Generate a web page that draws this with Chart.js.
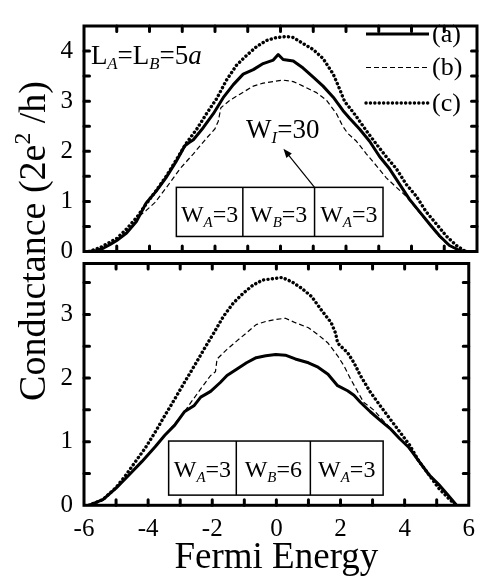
<!DOCTYPE html>
<html>
<head>
<meta charset="utf-8">
<script src="https://cdn.jsdelivr.net/npm/chart.js@4/dist/chart.umd.min.js"></script>
<style>
  html, body { margin: 0; padding: 0; background: #fff; }
  #wrap { position: relative; width: 484px; height: 583px; }
  #wrap canvas { position: absolute; left: 0; top: 0; }
</style>
</head>
<body>
<div id="wrap">
  <canvas id="cBot" width="484" height="583"></canvas>
  <canvas id="cTop" width="484" height="583"></canvas>
</div>
<script>
const FONT = '"Liberation Serif", "Times New Roman", serif';

// ---- upper panel (W_A=3, W_B=3) ----
const topEnergyA = [-5.85, -5.6, -5.4, -5.2, -5.0, -4.7, -4.4, -4.1, -3.8, -3.5, -3.2, -2.92, -2.8, -2.66, -2.36, -2.05, -1.75, -1.44, -1.14, -0.83, -0.53, -0.22, -0.07, 0.08, 0.39, 0.69, 1.0, 1.3, 1.61, 1.91, 2.11, 2.42, 2.72, 3.03, 3.33, 3.64, 3.94, 4.25, 4.55, 4.86, 5.16, 5.47, 5.7];
const topCondA   = [0, 0.02, 0.07, 0.14, 0.22, 0.37, 0.6, 0.97, 1.2, 1.47, 1.78, 2.11, 2.17, 2.23, 2.47, 2.75, 3.07, 3.33, 3.54, 3.63, 3.75, 3.82, 3.93, 3.83, 3.8, 3.66, 3.48, 3.3, 3.08, 2.81, 2.66, 2.44, 2.2, 1.89, 1.65, 1.34, 1.04, 0.79, 0.55, 0.31, 0.12, 0.02, 0];

const topEnergyB = [-5.85, -5.4, -5.0, -4.7, -4.45, -4.29, -4.1, -3.83, -3.48, -3.07, -2.66, -2.26, -2.0, -1.9, -1.82, -1.54, -1.24, -0.83, -0.53, -0.22, 0.08, 0.39, 0.69, 1.1, 1.4, 1.71, 1.9, 2.05, 2.32, 2.62, 2.93, 3.23, 3.54, 3.84, 4.15, 4.45, 4.8, 5.1, 5.4, 5.7];
const topCondB   = [0, 0.07, 0.22, 0.37, 0.55, 0.72, 0.82, 0.98, 1.28, 1.65, 1.95, 2.26, 2.45, 2.6, 2.87, 3.02, 3.14, 3.3, 3.36, 3.39, 3.42, 3.39, 3.3, 3.17, 3.02, 2.75, 2.5, 2.36, 2.2, 1.95, 1.71, 1.47, 1.28, 1.1, 0.85, 0.61, 0.33, 0.14, 0.03, 0];

const topEnergyC = [-5.85, -5.5, -5.0, -4.7, -4.39, -4.1, -3.78, -3.47, -3.17, -2.9, -2.56, -2.26, -1.95, -1.65, -1.34, -1.04, -0.73, -0.43, -0.12, 0.18, 0.39, 0.69, 1.0, 1.3, 1.61, 1.8, 1.96, 2.11, 2.32, 2.62, 2.93, 3.23, 3.54, 3.84, 4.15, 4.45, 4.76, 5.06, 5.37, 5.65];
const topCondC   = [0, 0.08, 0.26, 0.45, 0.68, 0.95, 1.23, 1.52, 1.84, 2.14, 2.44, 2.75, 3.05, 3.42, 3.72, 3.91, 4.09, 4.21, 4.27, 4.29, 4.27, 4.15, 4.03, 3.85, 3.54, 3.25, 2.99, 2.87, 2.69, 2.41, 2.14, 1.89, 1.65, 1.34, 1.1, 0.79, 0.55, 0.31, 0.12, 0];

// ---- lower panel (W_A=3, W_B=6) ----
const botEnergyA = [-5.85, -5.41, -5.0, -4.59, -4.19, -3.78, -3.48, -3.17, -2.87, -2.56, -2.36, -2.05, -1.75, -1.54, -1.24, -0.93, -0.63, -0.33, -0.02, 0.28, 0.59, 1.0, 1.3, 1.61, 1.91, 2.22, 2.42, 2.62, 2.93, 3.23, 3.54, 3.84, 4.15, 4.45, 4.76, 5.06, 5.37, 5.62];
const botCondA   = [0, 0.09, 0.27, 0.48, 0.69, 0.92, 1.1, 1.26, 1.47, 1.57, 1.7, 1.79, 1.93, 2.04, 2.14, 2.24, 2.32, 2.35, 2.37, 2.36, 2.3, 2.24, 2.17, 2.06, 1.88, 1.8, 1.73, 1.62, 1.47, 1.34, 1.21, 1.05, 0.9, 0.69, 0.48, 0.33, 0.15, 0];

const botEnergyB = [-5.85, -5.41, -5.0, -4.59, -4.19, -3.78, -3.48, -3.17, -2.87, -2.66, -2.36, -2.05, -1.9, -1.85, -1.54, -1.24, -0.93, -0.63, -0.33, -0.02, 0.28, 0.59, 1.0, 1.3, 1.61, 1.91, 2.11, 2.32, 2.52, 2.72, 3.03, 3.33, 3.64, 3.94, 4.25, 4.45, 4.76, 5.06, 5.37, 5.62];
const botCondB   = [0, 0.09, 0.27, 0.48, 0.69, 0.92, 1.1, 1.28, 1.47, 1.62, 1.83, 2.04, 2.1, 2.3, 2.45, 2.58, 2.71, 2.84, 2.89, 2.92, 2.94, 2.87, 2.79, 2.68, 2.55, 2.35, 2.19, 1.98, 1.8, 1.62, 1.5, 1.33, 1.17, 1.0, 0.82, 0.69, 0.48, 0.33, 0.15, 0];

const botEnergyC = [-5.85, -5.41, -5.0, -4.7, -4.39, -4.09, -3.78, -3.48, -3.17, -2.87, -2.56, -2.26, -1.95, -1.65, -1.34, -1.04, -0.73, -0.43, -0.12, 0.18, 0.49, 0.79, 1.1, 1.4, 1.71, 1.85, 1.91, 2.01, 2.22, 2.42, 2.62, 2.93, 3.23, 3.54, 3.84, 4.15, 4.45, 4.76, 5.06, 5.37, 5.6];
const botCondC   = [0, 0.09, 0.28, 0.47, 0.69, 0.9, 1.15, 1.41, 1.67, 1.93, 2.19, 2.45, 2.71, 2.97, 3.18, 3.33, 3.46, 3.54, 3.56, 3.58, 3.51, 3.41, 3.28, 3.07, 2.87, 2.7, 2.55, 2.5, 2.4, 2.24, 2.04, 1.78, 1.57, 1.36, 1.16, 0.95, 0.69, 0.48, 0.27, 0.11, 0];

// axis ticks
const xTickLabels = [-6, -4, -2, 0, 2, 4, 6];
const topYTickLabels = [0, 1, 2, 3, 4];
const botYTickLabels = [0, 1, 2, 3];
const seriesNames = ['(a)', '(b)', '(c)'];

const zip = (xs, ys) => xs.map((x, i) => ({ x, y: ys[i] }));

const lineStyles = [
  { borderWidth: 3, borderDash: [], borderCapStyle: 'butt' },
  { borderWidth: 1.2, borderDash: [5, 3], borderCapStyle: 'butt' },
  { borderWidth: 3.4, borderDash: [0.1, 4.3], borderCapStyle: 'round' }
];

function makeSets(pairs) {
  return pairs.map((p, i) => Object.assign({
    label: seriesNames[i],
    data: zip(p[0], p[1]),
    borderColor: '#000',
    pointRadius: 0,
    tension: 0,
    fill: false,
    borderJoinStyle: 'round'
  }, lineStyles[i]));
}

// text with sub/superscripts, drawn left/center aligned at a baseline
function richText(ctx, x, y, segs, size, align) {
  const parts = segs.map(s => {
    const fs = (s.sub || s.sup) ? size * 0.62 : size;
    const font = (s.it ? 'italic ' : '') + fs + 'px ' + FONT;
    ctx.font = font;
    const dy = s.sub ? size * 0.2 : (s.sup ? -size * 0.4 : 0);
    return { t: s.t, font, dy, w: ctx.measureText(s.t).width };
  });
  const total = parts.reduce((a, p) => a + p.w, 0);
  let cx = align === 'center' ? x - total / 2 : x;
  ctx.textAlign = 'left';
  ctx.textBaseline = 'alphabetic';
  ctx.fillStyle = '#000';
  for (const p of parts) {
    ctx.font = p.font;
    ctx.fillText(p.t, cx, y + p.dy);
    cx += p.w;
  }
}

const W = (letter, val) => [{ t: 'W' }, { t: letter, sub: 1, it: 1 }, { t: '=' + val }];

// frame, inward ticks, boxes, labels and legend for each panel
const panelDeco = {
  id: 'panelDeco',
  afterDatasetsDraw(chart, args, o) {
    const { ctx, chartArea: a, scales: { x, y } } = chart;
    ctx.save();
    // structure boxes
    if (o.boxes) {
      ctx.lineWidth = 1.5;
      ctx.strokeStyle = '#000';
      const b = o.boxes;
      const top = y.getPixelForValue(b.top), bot = y.getPixelForValue(b.bottom);
      const xs = b.edges.map(v => x.getPixelForValue(v));
      ctx.fillStyle = '#fff';
      ctx.fillRect(xs[0], top, xs[xs.length - 1] - xs[0], bot - top);
      ctx.strokeRect(xs[0], top, xs[xs.length - 1] - xs[0], bot - top);
      for (let i = 1; i < xs.length - 1; i++) {
        ctx.beginPath(); ctx.moveTo(xs[i], top); ctx.lineTo(xs[i], bot); ctx.stroke();
      }
      b.labels.forEach((lab, i) => {
        richText(ctx, (xs[i] + xs[i + 1]) / 2, y.getPixelForValue(b.textY), lab, 24, 'center');
      });
    }
    // free text
    (o.texts || []).forEach(t => {
      richText(ctx, x.getPixelForValue(t.x), y.getPixelForValue(t.y), t.segs, t.size, 'left');
    });
    // arrow
    if (o.arrow) {
      const x0 = x.getPixelForValue(o.arrow.from[0]), y0 = y.getPixelForValue(o.arrow.from[1]);
      const x1 = x.getPixelForValue(o.arrow.to[0]), y1 = y.getPixelForValue(o.arrow.to[1]);
      const ang = Math.atan2(y1 - y0, x1 - x0), hl = 9, hw = 3.5;
      ctx.strokeStyle = '#000'; ctx.lineWidth = 1.2;
      ctx.beginPath(); ctx.moveTo(x0, y0);
      ctx.lineTo(x1 - Math.cos(ang) * hl * 0.8, y1 - Math.sin(ang) * hl * 0.8); ctx.stroke();
      ctx.fillStyle = '#000';
      ctx.beginPath();
      ctx.moveTo(x1, y1);
      ctx.lineTo(x1 - Math.cos(ang) * hl - Math.sin(ang) * hw, y1 - Math.sin(ang) * hl + Math.cos(ang) * hw);
      ctx.lineTo(x1 - Math.cos(ang) * hl + Math.sin(ang) * hw, y1 - Math.sin(ang) * hl - Math.cos(ang) * hw);
      ctx.closePath(); ctx.fill();
    }
    // legend
    if (o.legend) {
      const L = o.legend;
      chart.data.datasets.forEach((ds, i) => {
        const yy = L.rows[i];
        ctx.strokeStyle = ds.borderColor;
        ctx.lineWidth = ds.borderWidth;
        ctx.setLineDash(ds.borderDash);
        ctx.lineCap = ds.borderCapStyle;
        ctx.beginPath(); ctx.moveTo(L.x0, yy); ctx.lineTo(L.x1, yy); ctx.stroke();
        ctx.setLineDash([]);
        ctx.lineCap = 'butt';
        ctx.font = '26px ' + FONT;
        ctx.fillStyle = '#000';
        ctx.textAlign = 'left';
        ctx.textBaseline = 'middle';
        ctx.fillText(ds.label, L.x1 + 3, yy + 1);
      });
    }
    // frame
    ctx.strokeStyle = '#000';
    ctx.lineWidth = 3;
    ctx.setLineDash([]);
    ctx.strokeRect(a.left, a.top, a.right - a.left, a.bottom - a.top);
    // inward ticks on all four sides
    const tl = 5.5;
    ctx.lineCap = 'round';
    ctx.lineWidth = 3;
    ctx.beginPath();
    for (let v = x.min + 1; v < x.max - 1e-6; v += 1) {
      const px = x.getPixelForValue(v);
      ctx.moveTo(px, a.bottom); ctx.lineTo(px, a.bottom - tl);
      ctx.moveTo(px, a.top); ctx.lineTo(px, a.top + tl);
    }
    for (let v = 0.5; v < y.max - 1e-6; v += 0.5) {
      const py = y.getPixelForValue(v);
      ctx.moveTo(a.left, py); ctx.lineTo(a.left + tl, py);
      ctx.moveTo(a.right, py); ctx.lineTo(a.right - tl, py);
    }
    ctx.stroke();
    // shared y-axis title
    if (o.yTitle) {
      ctx.save();
      ctx.translate(o.yTitle.x, o.yTitle.y);
      ctx.rotate(-Math.PI / 2);
      richText(ctx, 0, 0, [{ t: 'Conductance (2e' }, { t: '2', sup: 1 }, { t: ' /h)' }], 38, 'center');
      ctx.restore();
    }
    ctx.restore();
  }
};

Chart.defaults.color = '#000';
Chart.defaults.font.family = FONT;

const yTicks = (labels) => ({
  padding: 11,
  font: { size: 25 },
  color: '#000',
  stepSize: 1,
  includeBounds: false,
  callback: v => labels.includes(v) ? String(v) : ''
});

const commonOpts = {
  responsive: false,
  animation: false,
  devicePixelRatio: 1,
  events: []
};

// upper panel
new Chart(document.getElementById('cTop'), {
  type: 'line',
  data: { datasets: makeSets([[topEnergyA, topCondA], [topEnergyB, topCondB], [topEnergyC, topCondC]]) },
  options: Object.assign({}, commonOpts, {
    layout: { padding: { top: 6.5, right: 7, bottom: 583 - 251.5, left: 0 } },
    plugins: {
      legend: { display: false },
      tooltip: { enabled: false },
      panelDeco: {
        legend: { x0: 366, x1: 429, rows: [34, 67.5, 103] },
        texts: [
          { x: -5.79, y: 3.74, size: 27, segs: [{ t: 'L' }, { t: 'A', sub: 1, it: 1 }, { t: '=L' }, { t: 'B', sub: 1, it: 1 }, { t: '=5' }, { t: 'a', it: 1 }] },
          { x: -1.05, y: 2.27, size: 27, segs: W('I', 30) }
        ],
        arrow: { from: [1.04, 1.28], to: [0.09, 2.05] },
        boxes: { edges: [-3.18, -1.15, 1.04, 3.13], top: 1.28, bottom: 0.3, textY: 0.58,
                 labels: [W('A', 3), W('B', 3), W('A', 3)] }
      }
    },
    scales: {
      x: { type: 'linear', min: -6, max: 6, display: false },
      y: {
        type: 'linear', min: 0, max: 4.5,
        afterFit: s => { s.width = 84; },
        grid: { display: false, drawTicks: false },
        border: { display: false },
        ticks: yTicks(topYTickLabels)
      }
    }
  }),
  plugins: [panelDeco]
});

// lower panel
new Chart(document.getElementById('cBot'), {
  type: 'line',
  data: { datasets: makeSets([[botEnergyA, botCondA], [botEnergyB, botCondB], [botEnergyC, botCondC]]) },
  options: Object.assign({}, commonOpts, {
    layout: { padding: { top: 263.5, right: 7, bottom: 0, left: 0 } },
    plugins: {
      legend: { display: false },
      tooltip: { enabled: false },
      panelDeco: {
        boxes: { edges: [-3.36, -1.25, 1.06, 3.33], top: 1.01, bottom: 0.16, textY: 0.445,
                 labels: [W('A', 3), W('B', 6), W('A', 3)] },
        yTitle: { x: 45, y: 241 }
      }
    },
    scales: {
      x: {
        type: 'linear', min: -6, max: 6,
        afterFit: s => { s.height = 583 - 505.3; },
        grid: { display: false, drawTicks: false },
        border: { display: false },
        ticks: {
          padding: 9, font: { size: 25 }, color: '#000', stepSize: 2, maxRotation: 0,
          callback: v => xTickLabels.includes(v) ? String(v) : ''
        },
        title: { display: true, text: 'Fermi Energy', font: { size: 37 }, color: '#000', padding: { top: 0, bottom: 3 } }
      },
      y: {
        type: 'linear', min: 0, max: 3.8,
        afterFit: s => { s.width = 84; },
        grid: { display: false, drawTicks: false },
        border: { display: false },
        ticks: yTicks(botYTickLabels)
      }
    }
  }),
  plugins: [panelDeco]
});
</script>
</body>
</html>
